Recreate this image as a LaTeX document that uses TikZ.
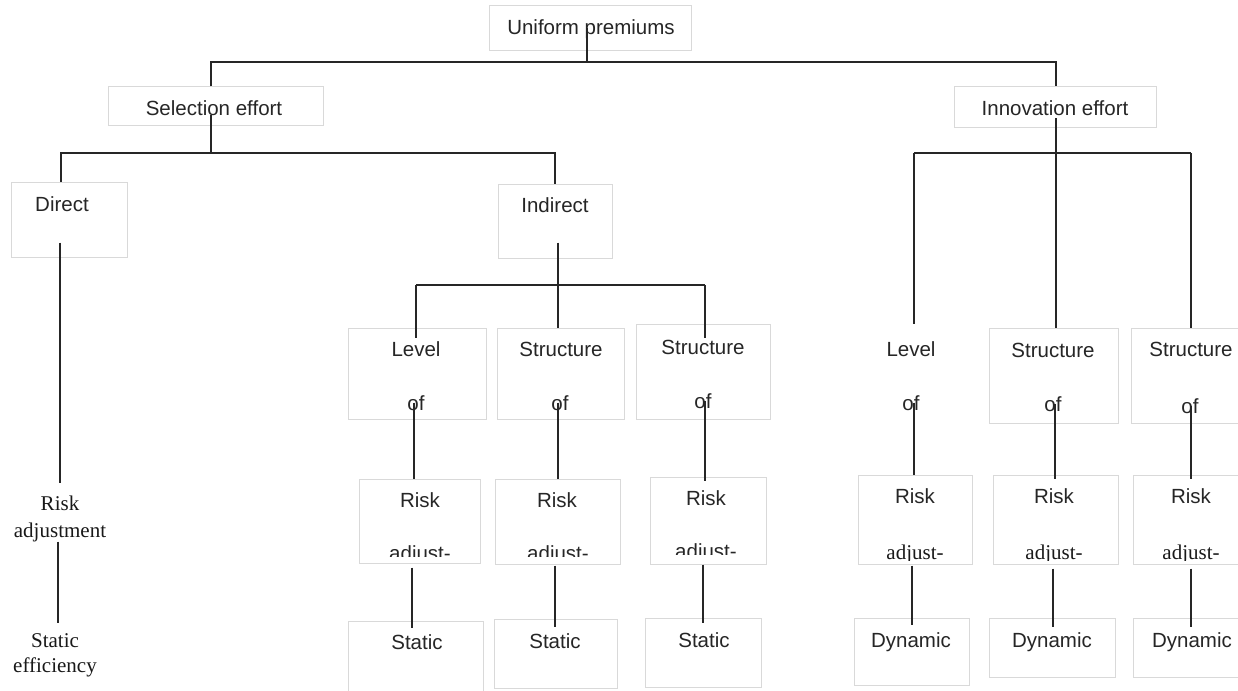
\documentclass[tikz,border=0pt]{standalone}
\usepackage{fontspec}
\newfontfamily\sansf{Liberation Sans}
\newfontfamily\seriff{Liberation Serif}
\usetikzlibrary{fit}
\newcommand\mybox[5]{\node[box, fit={(#2,#3) (#4,#5)}] (#1) {};}
\begin{document}
\begin{tikzpicture}[x=1pt,y=-1pt,
  box/.style={draw=black!15, line width=1pt, inner sep=0pt},
  conn/.style={draw=black!85, line width=1.3pt},
  lab/.style={anchor=base, inner sep=0pt, font=\sansf\fontsize{20.5}{24}\selectfont, text=black!85},
  ser/.style={anchor=base, inner sep=0pt, font=\seriff\fontsize{21}{24}\selectfont, text=black!90}]
\fill[white] (0,0) rectangle (1238,690);
\useasboundingbox (0,0) rectangle (1238,690);

% boxes
\mybox{up}{489}{6}{691}{51}
\mybox{sel}{108}{87}{323}{125}
\mybox{inn}{954}{87}{1156}{127}
\mybox{dir}{11}{182}{127}{257}
\mybox{ind}{498}{184}{612}{258}
\mybox{lv1}{348}{328}{486}{419}
\mybox{st2}{497}{328}{624}{419}
\mybox{st3}{636}{324}{770}{419}
\mybox{rk1}{359}{479}{480}{563}
\mybox{rk2}{495}{479}{620}{564}
\mybox{rk3}{650}{477}{766}{564}
\mybox{sc1}{348}{621}{483}{700}
\mybox{sc2}{494}{619}{617}{688}
\mybox{sc3}{645}{618}{761}{687}
\mybox{st4}{989}{328}{1118}{423}
\mybox{st5}{1131}{328}{1250}{423}
\mybox{rk4}{858}{475}{972}{564}
\mybox{rk5}{993}{475}{1118}{564}
\mybox{rk6}{1133}{475}{1250}{564}
\mybox{dy7}{854}{618}{969}{685}
\mybox{dy8}{989}{618}{1115}{677}
\mybox{dy9}{1133}{618}{1250}{677}

% texts
\node[lab] (t-up) at (591,35) {Uniform premiums};
\node[lab] (t-sel) at (214,115) {Selection effort};
\node[lab] (t-inn) at (1055,115) {Innovation effort};
\node[lab] (t-dir) at (62,211) {Direct};
\node[lab] (t-ind) at (555,212) {Indirect};

\node[lab] (t-lv1a) at (416,356) {Level};
\node[lab] (t-lv1b) at (416,410) {of};
\node[lab] (t-st2a) at (561,356) {Structure};
\node[lab] (t-st2b) at (560,410) {of};
\node[lab] (t-st3a) at (703,354) {Structure};
\node[lab] (t-st3b) at (703,408) {of};

\node[lab] (t-rk1a) at (420,507) {Risk};
\node[lab] (t-rk2a) at (557,507) {Risk};
\node[lab] (t-rk3a) at (706,505) {Risk};
\begin{scope}
  \clip (rk1.north west) rectangle ([yshift=7pt]rk1.south east);
  \node[lab] (t-rk1b) at (420,560) {adjust-};
\end{scope}
\begin{scope}
  \clip (rk2.north west) rectangle ([yshift=8pt]rk2.south east);
  \node[lab] (t-rk2b) at (558,560) {adjust-};
\end{scope}
\begin{scope}
  \clip (rk3.north west) rectangle ([yshift=10pt]rk3.south east);
  \node[lab] (t-rk3b) at (706,558) {adjust-};
\end{scope}

\node[lab] (t-sc1) at (417,649) {Static};
\node[lab] (t-sc2) at (555,648) {Static};
\node[lab] (t-sc3) at (704,647) {Static};

\node[ser] (t-ra) at (60,510) {Risk};
\node[ser] (t-rb) at (60,537) {adjustment};
\node[ser] (t-sa) at (55,647) {Static};
\node[ser] (t-sb) at (55,672) {efficiency};

\node[lab] (t-lv4a) at (911,356) {Level};
\node[lab] (t-lv4b) at (911,410) {of};
\node[lab] (t-st4a) at (1053,357) {Structure};
\node[lab] (t-st4b) at (1053,411) {of};
\node[lab] (t-st5a) at (1191,356) {Structure};
\node[lab] (t-st5b) at (1190,413) {of};

\node[lab] (t-rk4a) at (915,503) {Risk};
\node[lab] (t-rk5a) at (1054,503) {Risk};
\node[lab] (t-rk6a) at (1191,503) {Risk};
\begin{scope}
  \clip (rk4.north west) rectangle ([yshift=4pt]rk4.south east);
  \node[ser] (t-rk4b) at (915,559) {adjust-};
\end{scope}
\begin{scope}
  \clip (rk5.north west) rectangle ([yshift=4pt]rk5.south east);
  \node[ser] (t-rk5b) at (1054,559) {adjust-};
\end{scope}
\begin{scope}
  \clip (rk6.north west) rectangle ([yshift=4pt]rk6.south east);
  \node[ser] (t-rk6b) at (1191,559) {adjust-};
\end{scope}

\node[lab] (t-dy7) at (911,647) {Dynamic};
\node[lab] (t-dy8) at (1052,647) {Dynamic};
\node[lab] (t-dy9) at (1192,647) {Dynamic};

% junction coordinates
\coordinate (b0L) at (211,62);
\coordinate (b0R) at (1056,62);
\coordinate (b1L) at (61,153);
\coordinate (b1R) at (555,153);
\coordinate (b2L) at (416,285);
\coordinate (b2R) at (705,285);
\coordinate (b3L) at (914,153);
\coordinate (b3R) at (1191,153);

% connectors
\draw[conn] (up.center -| 587,0) -- (587,62);
\draw[conn] (sel.north -| b0L) -- (b0L) -- (b0R) -- (inn.north -| b0R);

\draw[conn] (t-sel.south -| 211,0) -- (211,153);
\draw[conn] (dir.north -| b1L) -- (b1L) -- (b1R) -- (ind.north -| b1R);
\draw[conn, shorten <=-15pt, shorten >=12pt] (dir.south -| 60,0) -- (t-ra.north -| 60,0);
\draw[conn, shorten >=10pt] (t-rb.south -| 58,0) -- (t-sa.north -| 58,0);

\draw[conn, shorten <=-16pt] (ind.south -| 558,0) -- (st2.north -| 558,0);
\draw[conn] (b2L) -- (b2R);
\draw[conn, shorten >=-10pt] (b2L) -- (lv1.north -| b2L);
\draw[conn, shorten >=-14pt] (b2R) -- (st3.north -| b2R);

\draw[conn] (t-lv1b.center -| 414,0) -- (rk1.north -| 414,0);
\draw[conn] (t-st2b.center -| 558,0) -- (rk2.north -| 558,0);
\draw[conn, shorten >=-4pt] (t-st3b.center -| 705,0) -- (rk3.north -| 705,0);

\draw[conn, shorten <=4pt, shorten >=-7pt] (rk1.south -| 412,0) -- (sc1.north -| 412,0);
\draw[conn, shorten <=1pt, shorten >=-8pt] (rk2.south -| 555,0) -- (sc2.north -| 555,0);
\draw[conn, shorten >=-5pt] (rk3.south -| 703,0) -- (sc3.north -| 703,0);

\draw[conn, shorten <=-9pt] (inn.south -| 1056,0) -- (st4.north -| 1056,0);
\draw[conn] (b3L) -- (b3R);
\draw[conn, shorten >=17pt] (b3L) -- (t-lv4a.north -| b3L);
\draw[conn] (b3R) -- (st5.north -| b3R);

\draw[conn] (t-lv4b.center -| 914,0) -- (rk4.north -| 914,0);
\draw[conn, shorten >=-4pt] (t-st4b.center -| 1055,0) -- (rk5.north -| 1055,0);
\draw[conn, shorten >=-4pt] (t-st5b.center -| 1191,0) -- (rk6.north -| 1191,0);

\draw[conn, shorten <=1pt, shorten >=-7pt] (rk4.south -| 912,0) -- (dy7.north -| 912,0);
\draw[conn, shorten <=4pt, shorten >=-9pt] (rk5.south -| 1053,0) -- (dy8.north -| 1053,0);
\draw[conn, shorten <=4pt, shorten >=-9pt] (rk6.south -| 1191,0) -- (dy9.north -| 1191,0);
\end{tikzpicture}
\end{document}
